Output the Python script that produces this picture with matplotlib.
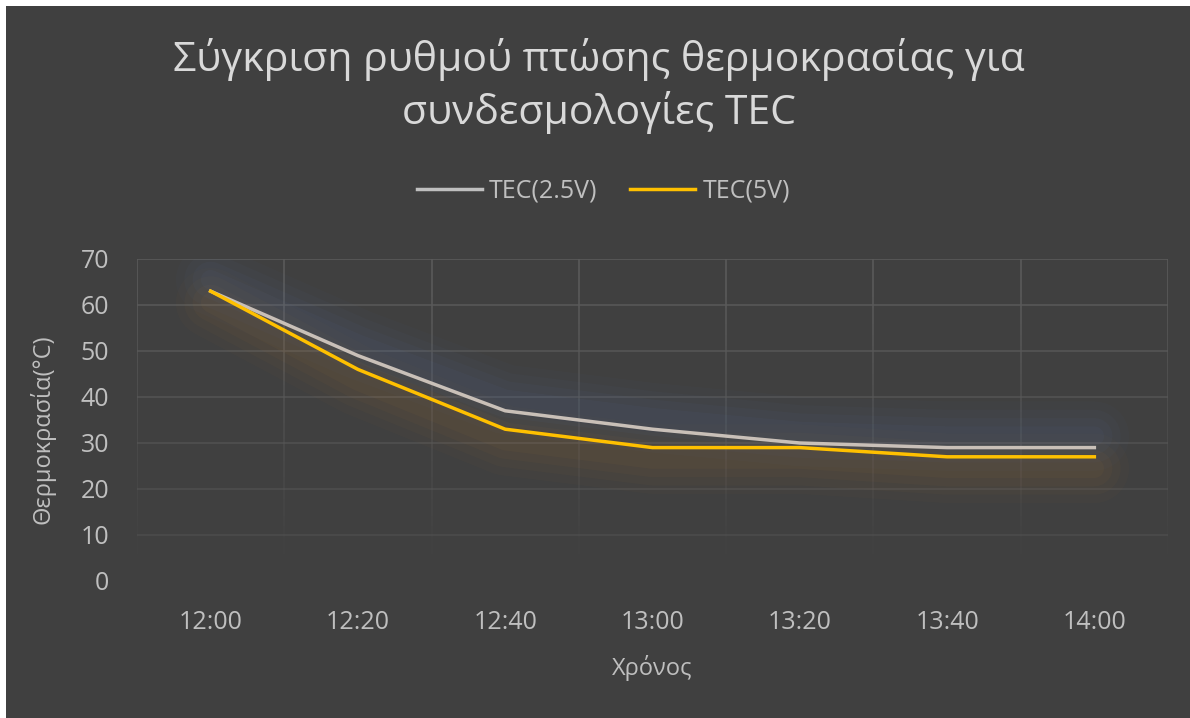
import numpy as np
import matplotlib.pyplot as plt
from matplotlib.collections import LineCollection
from matplotlib.patches import Rectangle

plt.rcParams['font.family'] = ['Open Sans', 'DejaVu Sans']

times = ['12:00', '12:20', '12:40', '13:00', '13:20', '13:40', '14:00']
tec_25 = [63, 49, 37, 33, 30, 29, 29]
tec_5 = [63, 46, 33, 29, 29, 27, 27]
yticks = [0, 10, 20, 30, 40, 50, 60, 70]

bg = '#404040'
txt = '#bfbfbf'
grid_c = '#5a5a5a'
gray_line = '#c9c0b8'
yellow = '#ffc000'

fig = plt.figure(figsize=(11.9, 7.18), dpi=100, facecolor='white')
fig.patches.append(Rectangle((6 / 1190, 0), 1, 1 - 6 / 718, transform=fig.transFigure,
                             facecolor=bg, edgecolor='none', zorder=-10))

ax = fig.add_axes([137 / 1190, 1 - 581 / 718, (1168 - 137) / 1190, (581 - 259) / 718])
ax.set_facecolor('none')
x = np.arange(len(times))
ax.set_xlim(-0.5, len(times) - 0.5)
ax.set_ylim(0, 70)

# fading gridlines (lighter at top, vanish towards the bottom)
for yv in yticks[1:]:
    ax.axhline(yv, color=grid_c, lw=1.2, alpha=0.35 + 0.65 * yv / 70, zorder=0)
ys = np.linspace(0, 70, 60)
for xv in np.arange(-0.5, len(times), 1.0):
    segs = [[(xv, ys[i]), (xv, ys[i + 1])] for i in range(len(ys) - 1)]
    alphas = np.clip((ys[:-1] - 3) / 60, 0, 1)
    cols = [(0x5a / 255, 0x5a / 255, 0x5a / 255, a) for a in alphas]
    ax.add_collection(LineCollection(segs, colors=cols, lw=1.2, zorder=0))

# soft glow behind lines
for w, a in [(50, 0.03), (38, 0.04), (26, 0.05), (14, 0.06)]:
    ax.plot(x, np.array(tec_25) + 2.5, color='#5a78b0', lw=w, alpha=a,
            solid_capstyle='round', zorder=1)
    ax.plot(x, np.array(tec_5) - 2.5, color='#b07a3a', lw=w, alpha=a,
            solid_capstyle='round', zorder=1)

ax.plot(x, tec_25, color=gray_line, lw=2.5, label='TEC(2.5V)', zorder=3)
ax.plot(x, tec_5, color=yellow, lw=2.5, label='TEC(5V)', zorder=4)

ax.set_xticks(x)
ax.set_xticklabels(times)
ax.set_yticks(yticks)
ax.tick_params(colors=txt, labelsize=18, length=0)
ax.tick_params(axis='y', pad=20)
ax.tick_params(axis='x', pad=21)
for s in ax.spines.values():
    s.set_visible(False)

ax.set_xlabel('Χρόνος', color=txt, fontsize=17, va='center')
ax.xaxis.set_label_coords(0.5, -0.27)
ax.set_ylabel('Θερμοκρασία(°C)', color=txt, fontsize=17, va='center')
ax.yaxis.set_label_coords(-0.092, 0.47)

fig.text(0.503, 1 - 86 / 718, 'Σύγκριση ρυθμού πτώσης θερμοκρασίας για\nσυνδεσμολογίες TEC',
         ha='center', va='center', color='#d9d9d9', fontsize=29.5, linespacing=1.3)

h1, = ax.plot([], [], color='#bfbfbf', lw=2.5)
h2, = ax.plot([], [], color=yellow, lw=2.5)
leg = fig.legend([h1, h2], ['TEC(2.5V)', 'TEC(5V)'], loc='center',
                 bbox_to_anchor=(0.507, 1 - 191 / 718), ncol=2, frameon=False,
                 fontsize=18, handlelength=2.6, handletextpad=0.3, columnspacing=1.3)
for t in leg.get_texts():
    t.set_color(txt)

fig.savefig('out.png', dpi=100, facecolor='white')
